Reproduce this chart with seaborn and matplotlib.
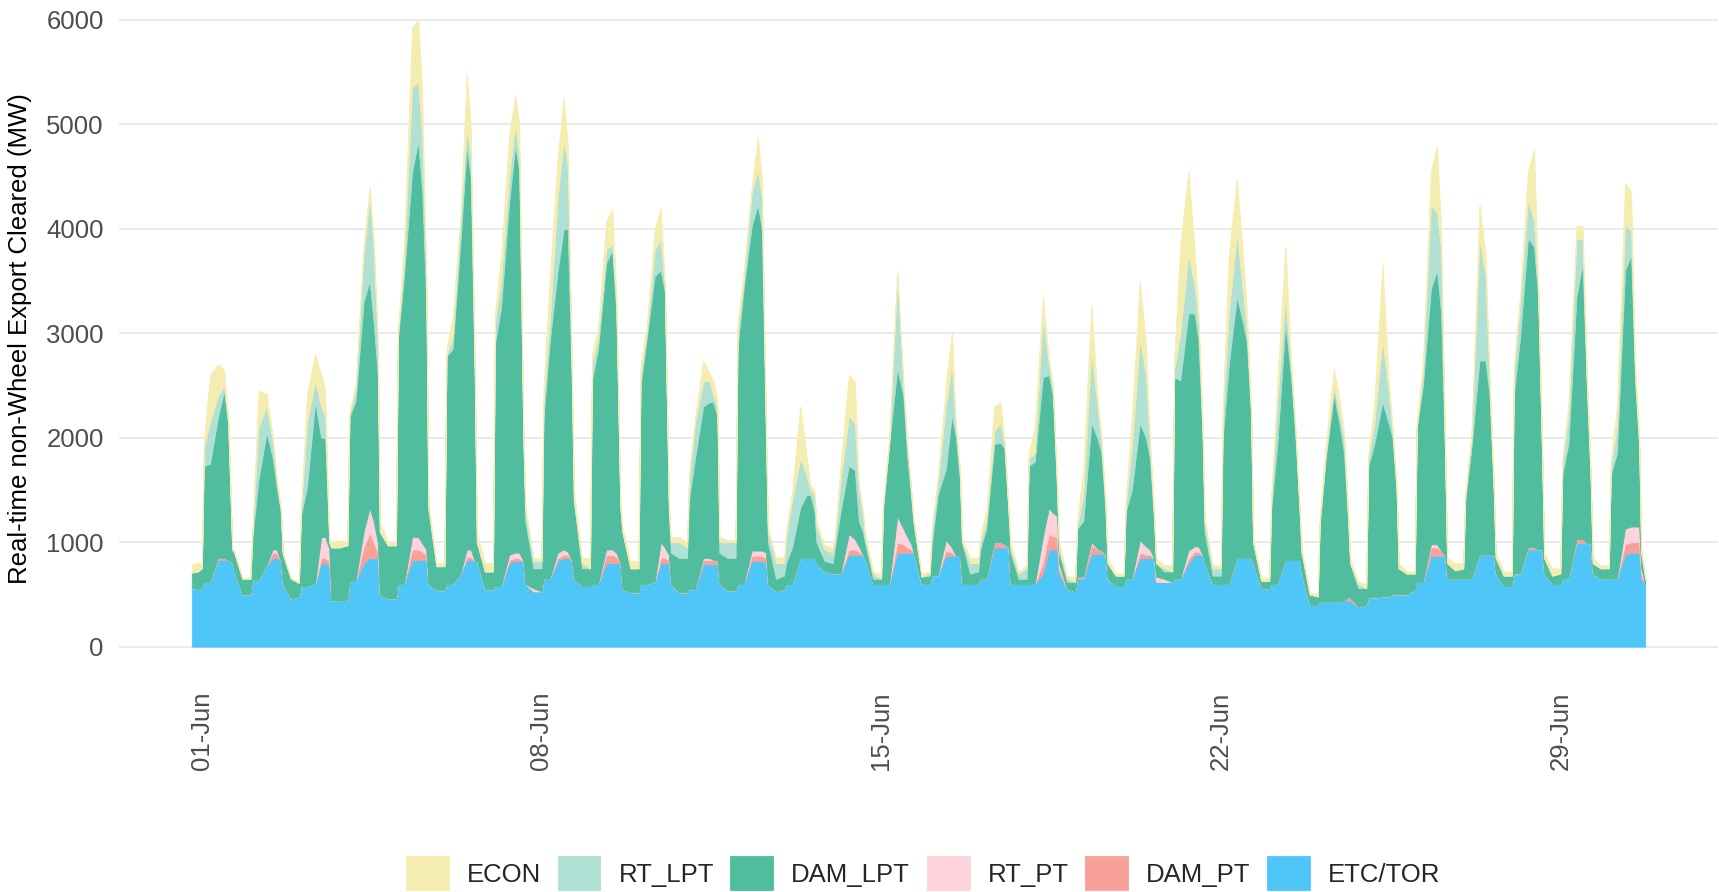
import matplotlib
matplotlib.use("Agg")
import matplotlib.pyplot as plt
import matplotlib.dates as mdates
import numpy as np
import pandas as pd
import seaborn as sns

# sample hours inside each day (MW)
HOURS = [0, 1, 4, 8, 11, 13, 15, 16, 20]
PRE_TIMES = ['2023-05-31 19:00', '2023-05-31 22:00']
END_TIME = '2023-06-30 18:00'
TICK_DATES = ['2023-06-01', '2023-06-08', '2023-06-15', '2023-06-22', '2023-06-29']

# one row per day, 01-Jun .. 30-Jun
etc_pre = [560, 550]
etc_tor = [
    [560, 620, 620, 830, 830, 830, 800, 720, 500],
    [500, 640, 640, 780, 850, 850, 820, 600, 460],
    [480, 580, 580, 600, 800, 800, 780, 440, 440],
    [440, 630, 630, 800, 850, 850, 850, 500, 460],
    [460, 600, 600, 830, 830, 830, 830, 600, 540],
    [540, 600, 600, 700, 830, 830, 820, 820, 550],
    [550, 580, 580, 800, 820, 820, 820, 600, 530],
    [530, 650, 650, 820, 850, 850, 820, 650, 580],
    [580, 600, 600, 800, 800, 800, 800, 550, 520],
    [520, 600, 600, 620, 800, 800, 800, 600, 520],
    [520, 550, 550, 790, 790, 790, 790, 600, 540],
    [540, 600, 600, 820, 820, 820, 800, 600, 530],
    [550, 600, 600, 850, 850, 850, 850, 800, 720],
    [700, 700, 700, 880, 880, 880, 880, 850, 600],
    [600, 600, 600, 900, 900, 900, 900, 900, 600],
    [600, 680, 680, 870, 870, 870, 870, 600, 600],
    [600, 650, 650, 950, 950, 950, 950, 600, 600],
    [600, 600, 600, 700, 930, 930, 930, 700, 550],
    [530, 650, 650, 890, 890, 890, 890, 650, 580],
    [580, 650, 650, 850, 850, 850, 850, 620, 620],
    [620, 650, 650, 800, 880, 880, 880, 800, 600],
    [600, 600, 600, 850, 850, 850, 850, 800, 560],
    [560, 600, 600, 830, 830, 830, 830, 700, 400],
    [400, 430, 430, 430, 430, 440, 440, 440, 380],
    [400, 470, 470, 480, 480, 500, 500, 500, 500],
    [550, 620, 620, 870, 870, 870, 870, 650, 650],
    [650, 650, 650, 880, 880, 880, 880, 700, 580],
    [580, 700, 700, 930, 930, 930, 930, 700, 600],
    [600, 650, 650, 990, 990, 990, 990, 700, 650],
    [650, 650, 650, 880, 900, 900, 900, 650, 600],
]

dam_pt_pre = [0, 0]
dam_pt = [
    [0, 0, 0, 20, 20, 0, 0, 0, 0],
    [0, 0, 0, 0, 50, 50, 0, 0, 0],
    [0, 0, 0, 0, 50, 50, 40, 0, 0],
    [0, 0, 0, 150, 240, 150, 50, 0, 0],
    [0, 0, 0, 100, 100, 80, 50, 0, 0],
    [0, 0, 0, 0, 30, 30, 0, 0, 0],
    [0, 0, 0, 30, 30, 30, 0, 0, 0],
    [0, 0, 0, 30, 30, 30, 0, 0, 0],
    [0, 0, 0, 80, 80, 60, 0, 0, 0],
    [0, 0, 0, 0, 50, 50, 30, 0, 0],
    [0, 0, 0, 40, 40, 40, 40, 0, 0],
    [0, 0, 0, 50, 50, 50, 50, 0, 0],
    [0, 0, 0, 0, 0, 0, 0, 0, 0],
    [0, 0, 0, 50, 50, 30, 0, 0, 0],
    [0, 0, 0, 100, 80, 50, 30, 0, 0],
    [0, 0, 0, 50, 30, 0, 0, 0, 0],
    [0, 0, 0, 50, 50, 30, 0, 0, 0],
    [0, 0, 0, 100, 150, 130, 120, 50, 0],
    [0, 20, 20, 80, 50, 30, 0, 0, 0],
    [0, 0, 0, 50, 30, 30, 0, 0, 0],
    [0, 0, 0, 40, 30, 30, 0, 0, 0],
    [0, 0, 0, 0, 0, 0, 0, 0, 0],
    [0, 0, 0, 0, 0, 0, 0, 0, 0],
    [0, 0, 0, 0, 0, 0, 30, 30, 0],
    [0, 0, 0, 0, 0, 0, 0, 0, 0],
    [0, 0, 0, 80, 80, 50, 0, 0, 0],
    [0, 0, 0, 0, 0, 0, 0, 0, 0],
    [0, 0, 0, 20, 20, 0, 0, 0, 0],
    [0, 0, 0, 40, 40, 0, 0, 0, 0],
    [0, 0, 0, 100, 100, 100, 100, 50, 0],
]

rt_pt_pre = [0, 0]
rt_pt = [
    [0, 0, 0, 0, 0, 0, 0, 0, 0],
    [0, 0, 0, 0, 30, 30, 0, 0, 0],
    [0, 0, 0, 0, 200, 200, 120, 0, 0],
    [0, 0, 0, 150, 240, 200, 100, 0, 0],
    [0, 0, 0, 120, 120, 80, 50, 0, 0],
    [0, 0, 0, 0, 70, 70, 0, 0, 0],
    [0, 0, 0, 50, 50, 50, 0, 0, 30],
    [0, 0, 0, 50, 50, 30, 0, 0, 0],
    [0, 0, 0, 50, 50, 40, 0, 0, 0],
    [0, 0, 0, 0, 150, 100, 50, 0, 0],
    [0, 0, 0, 20, 20, 0, 0, 0, 0],
    [0, 0, 0, 50, 50, 50, 50, 0, 0],
    [0, 0, 0, 0, 0, 0, 0, 0, 0],
    [0, 0, 0, 150, 100, 50, 0, 0, 0],
    [0, 0, 0, 250, 150, 100, 50, 0, 0],
    [0, 0, 0, 100, 50, 0, 0, 0, 0],
    [0, 0, 0, 0, 0, 0, 0, 0, 0],
    [0, 0, 0, 250, 250, 220, 200, 50, 0],
    [0, 0, 0, 30, 0, 0, 0, 0, 0],
    [0, 0, 0, 120, 80, 50, 0, 50, 30],
    [0, 0, 0, 80, 50, 50, 0, 0, 0],
    [0, 0, 0, 0, 0, 0, 0, 0, 0],
    [0, 0, 0, 0, 0, 0, 0, 0, 0],
    [0, 0, 0, 0, 0, 0, 0, 0, 0],
    [0, 0, 0, 0, 0, 0, 0, 0, 0],
    [0, 0, 0, 30, 30, 0, 0, 0, 0],
    [0, 0, 0, 0, 0, 0, 0, 0, 0],
    [0, 0, 0, 0, 0, 0, 0, 0, 0],
    [0, 0, 0, 0, 0, 0, 0, 0, 0],
    [0, 0, 0, 150, 150, 150, 150, 50, 0],
]

dam_lpt_pre = [150, 170]
dam_lpt = [
    [190, 1110, 1130, 1350, 1600, 1310, 130, 180, 150],
    [150, 410, 960, 1270, 880, 600, 480, 290, 190],
    [130, 670, 950, 1740, 950, 950, 60, 510, 510],
    [530, 1570, 1720, 2200, 2170, 1900, 1600, 600, 510],
    [510, 2350, 2950, 3500, 3790, 3360, 2370, 730, 230],
    [230, 2180, 2250, 3200, 3850, 3570, 1680, 180, 170],
    [170, 2320, 2670, 3370, 3900, 3650, 1180, 600, 190],
    [220, 1550, 2250, 2700, 3070, 3090, 1680, 750, 170],
    [170, 1950, 2250, 2740, 2870, 2300, 530, 550, 230],
    [230, 1900, 2340, 2930, 2600, 2450, 420, 300, 330],
    [330, 860, 1260, 1450, 1490, 1510, 1370, 300, 310],
    [310, 2260, 2830, 3110, 3310, 3080, 1100, 400, 120],
    [130, 200, 350, 480, 600, 600, 450, 200, 100],
    [100, 230, 600, 650, 660, 240, 220, 150, 50],
    [50, 730, 1340, 1410, 1270, 760, 420, 300, 70],
    [80, 290, 770, 680, 1270, 1130, 730, 400, 100],
    [120, 280, 480, 940, 950, 920, 350, 300, 50],
    [50, 1130, 1170, 1530, 1270, 1120, 250, 100, 70],
    [90, 460, 530, 1140, 1060, 930, 410, 150, 100],
    [100, 640, 850, 1120, 1040, 870, 350, 130, 70],
    [100, 1930, 1900, 2270, 2230, 1980, 1120, 300, 80],
    [80, 1400, 2100, 2500, 2250, 2050, 1350, 200, 70],
    [70, 730, 1340, 2270, 1710, 1170, 470, 200, 100],
    [80, 740, 1380, 1990, 1670, 1410, 730, 330, 180],
    [160, 1260, 1470, 1860, 1660, 1500, 1000, 250, 200],
    [150, 1480, 1880, 2450, 2620, 2280, 930, 150, 80],
    [100, 760, 1250, 1860, 1860, 1520, 620, 150, 100],
    [100, 1720, 2240, 2960, 2880, 2420, 870, 150, 80],
    [100, 1000, 1290, 2320, 2640, 1550, 610, 100, 100],
    [100, 1000, 1200, 2470, 2600, 1390, 750, 150, 50],
]

rt_lpt_pre = [0, 0]
rt_lpt = [
    [0, 170, 400, 200, 50, 10, 0, 0, 0],
    [0, 50, 500, 250, 170, 70, 10, 0, 0],
    [0, 50, 610, 200, 300, 200, 0, 0, 0],
    [0, 20, 100, 450, 800, 700, 300, 0, 0],
    [0, 50, 150, 810, 560, 550, 200, 0, 0],
    [0, 20, 100, 200, 180, 200, 100, 0, 0],
    [0, 200, 250, 250, 200, 150, 0, 100, 70],
    [70, 150, 200, 700, 840, 600, 100, 0, 50],
    [0, 150, 100, 130, 50, 100, 0, 0, 0],
    [0, 100, 60, 250, 300, 50, 0, 100, 150],
    [100, 190, 330, 240, 200, 60, 100, 100, 150],
    [150, 160, 70, 320, 330, 300, 100, 100, 150],
    [120, 250, 450, 470, 200, 50, 150, 150, 110],
    [100, 70, 300, 470, 450, 300, 150, 50, 50],
    [0, 20, 10, 890, 100, 90, 50, 0, 0],
    [20, 120, 100, 600, 480, 100, 50, 0, 100],
    [80, 70, 70, 120, 190, 50, 0, 50, 50],
    [100, 70, 80, 570, 100, 50, 50, 50, 30],
    [0, 20, 250, 680, 300, 100, 50, 0, 0],
    [0, 60, 400, 800, 600, 100, 50, 0, 30],
    [0, 70, 450, 560, 280, 160, 100, 100, 70],
    [70, 220, 490, 600, 300, 100, 50, 0, 0],
    [0, 70, 400, 250, 60, 50, 0, 0, 0],
    [0, 30, 40, 80, 100, 150, 50, 0, 40],
    [0, 70, 200, 600, 320, 50, 0, 0, 0],
    [0, 0, 120, 800, 550, 600, 50, 0, 0],
    [0, 40, 100, 1160, 810, 100, 50, 0, 0],
    [0, 200, 330, 360, 240, 100, 0, 0, 0],
    [0, 100, 280, 550, 230, 60, 0, 0, 0],
    [0, 80, 250, 430, 240, 60, 50, 0, 0],
]

econ_pre = [80, 80]
econ = [
    [50, 80, 450, 300, 150, 50, 20, 20, 10],
    [10, 20, 350, 120, 40, 20, 20, 10, 10],
    [10, 20, 280, 260, 300, 250, 20, 50, 70],
    [30, 30, 50, 100, 100, 100, 50, 100, 30],
    [30, 50, 150, 570, 600, 400, 100, 70, 30],
    [30, 50, 200, 50, 520, 300, 100, 100, 80],
    [80, 100, 250, 400, 280, 300, 100, 50, 30],
    [30, 150, 400, 400, 420, 200, 100, 100, 50],
    [100, 100, 100, 270, 340, 100, 70, 50, 70],
    [70, 100, 60, 200, 300, 50, 100, 50, 50],
    [50, 50, 60, 200, 80, 150, 50, 50, 20],
    [20, 80, 90, 50, 320, 200, 50, 50, 50],
    [60, 50, 100, 500, 200, 50, 50, 50, 40],
    [50, 50, 150, 400, 400, 50, 50, 50, 20],
    [50, 50, 50, 50, 50, 50, 50, 50, 30],
    [20, 30, 70, 200, 320, 50, 50, 50, 50],
    [50, 50, 100, 240, 200, 50, 50, 50, 20],
    [30, 50, 250, 200, 50, 50, 50, 50, 30],
    [40, 50, 250, 450, 100, 50, 50, 50, 20],
    [20, 50, 300, 560, 300, 100, 50, 50, 30],
    [60, 100, 850, 800, 360, 100, 50, 50, 30],
    [30, 80, 560, 530, 350, 200, 50, 50, 30],
    [30, 50, 200, 480, 100, 50, 50, 50, 20],
    [20, 50, 100, 160, 150, 50, 50, 50, 20],
    [40, 50, 200, 730, 120, 50, 50, 50, 20],
    [20, 50, 120, 320, 650, 200, 50, 50, 70],
    [50, 50, 0, 330, 200, 100, 50, 50, 40],
    [40, 80, 80, 280, 690, 50, 100, 50, 70],
    [50, 50, 120, 130, 130, 100, 50, 50, 30],
    [30, 70, 200, 410, 360, 100, 50, 50, 20],
]

# time stamps for every sample
times = list(pd.to_datetime(PRE_TIMES))
day0 = pd.Timestamp('2023-06-01')
for d in range(len(etc_tor)):
    for h in HOURS:
        times.append(day0 + pd.Timedelta(days=d, hours=h))
times[-1] = pd.Timestamp(END_TIME)

def flat(pre, rows):
    return pre + [v for r in rows for v in r]

df = pd.DataFrame({
    'ETC/TOR': flat(etc_pre, etc_tor),
    'DAM_PT': flat(dam_pt_pre, dam_pt),
    'RT_PT': flat(rt_pt_pre, rt_pt),
    'DAM_LPT': flat(dam_lpt_pre, dam_lpt),
    'RT_LPT': flat(rt_lpt_pre, rt_lpt),
    'ECON': flat(econ_pre, econ),
}, index=pd.DatetimeIndex(times))

order = ['ETC/TOR', 'DAM_PT', 'RT_PT', 'DAM_LPT', 'RT_LPT', 'ECON']
colors = ['#4EC7F8', '#F9A198', '#FED3DB', '#4FBD9E', '#B1E0D4', '#F5EDB0']

sns.set_theme(style='whitegrid')
plt.rcParams['font.family'] = ['Liberation Sans', 'DejaVu Sans']

fig = plt.figure(figsize=(17.19, 8.92), dpi=100)
ax = fig.add_axes([119 / 1719, 1 - 678 / 892, 1599 / 1719, 678 / 892])

polys = ax.stackplot(df.index, [df[c].values for c in order],
                     labels=order, colors=colors, linewidth=0)
for p, c in zip(polys, colors):
    p.set_edgecolor(c)
    p.set_linewidth(0.6)

t0 = df.index[0]
t1 = df.index[-1]
ax.set_xlim(t0 - pd.Timedelta(days=1.5), t1 + pd.Timedelta(days=1.5))
ax.set_ylim(-300, 6190)
ax.set_yticks(np.arange(0, 6001, 1000))

ax.set_xticks(pd.to_datetime(TICK_DATES))
ax.xaxis.set_major_formatter(mdates.DateFormatter('%d-%b'))
plt.setp(ax.get_xticklabels(), rotation=90, ha='center', va='top')

ax.tick_params(axis='both', length=0, labelsize=18.5, labelcolor='#4D4D4D')
ax.tick_params(axis='y', pad=11)
ax.tick_params(axis='x', pad=10)

ax.grid(axis='x', visible=False)
ax.grid(axis='y', color='#EBEBEB', linewidth=1.4)
ax.set_axisbelow(True)
for s in ax.spines.values():
    s.set_visible(False)
ax.set_facecolor('white')

ax.set_xlabel('')
ax.set_ylabel('Real-time non-Wheel Export Cleared (MW)', fontsize=18.5,
              color='black', labelpad=10)

handles, labels = ax.get_legend_handles_labels()
fig.legend(handles[::-1], labels[::-1], loc='center',
           bbox_to_anchor=(0.537, 0.021), ncol=6, frameon=False,
           fontsize=18.5, handlelength=1.67, handleheight=1.67,
           handletextpad=0.7, columnspacing=0.64)

fig.savefig('out.png', dpi=100)
